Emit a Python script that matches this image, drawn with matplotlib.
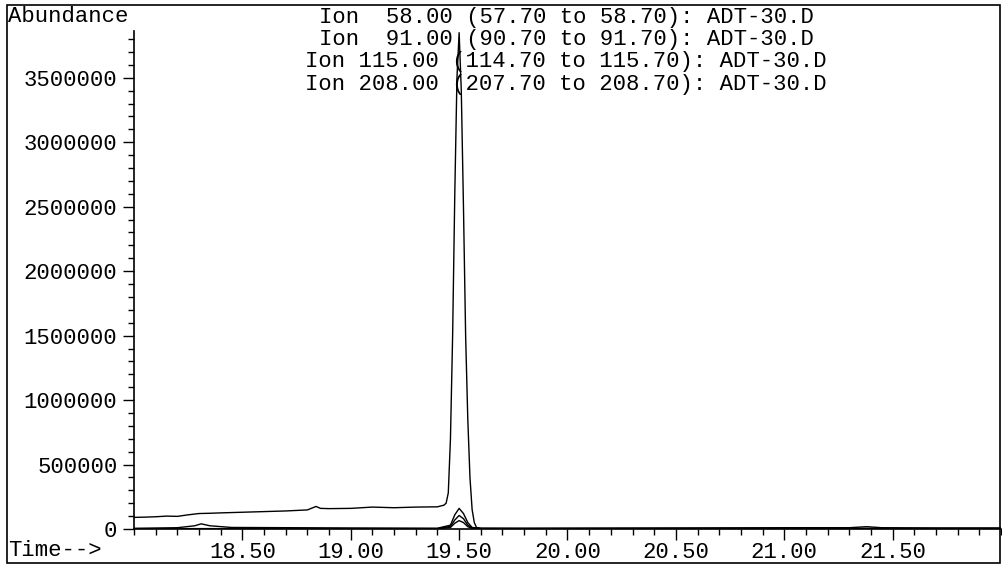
import matplotlib
matplotlib.use("Agg")
import matplotlib.pyplot as plt
from matplotlib.ticker import MultipleLocator
from matplotlib.patches import Rectangle

# ---- data ----
ion91_time = [18.00, 18.05, 18.10, 18.15, 18.20, 18.25, 18.30, 18.35, 18.40, 18.50,
              18.60, 18.70, 18.80, 18.84, 18.86, 18.90, 19.00, 19.10, 19.20, 19.30,
              19.40, 19.43, 19.44, 19.45, 19.46, 19.47, 19.48, 19.49, 19.50, 19.51,
              19.52, 19.53, 19.54, 19.55, 19.56, 19.57, 19.58, 19.60, 19.80, 20.00,
              20.50, 21.00, 21.30, 21.38, 21.45, 21.70, 22.00]
ion91_abund = [90000, 92000, 95000, 100000, 98000, 110000, 120000, 122000, 125000, 130000,
               135000, 140000, 148000, 175000, 160000, 158000, 160000, 170000, 165000, 170000,
               172000, 185000, 200000, 280000, 700000, 1500000, 2600000, 3500000, 3850000, 3400000,
               2500000, 1500000, 850000, 400000, 150000, 50000, 12000, 6000, 5000, 6000,
               8000, 10000, 10000, 18000, 10000, 8000, 8000]

ion58_time = [18.00, 18.20, 18.28, 18.31, 18.35, 18.45, 19.00, 19.40, 19.46, 19.48,
              19.50, 19.52, 19.54, 19.56, 19.60, 20.50, 21.50, 22.00]
ion58_abund = [5000, 10000, 25000, 40000, 25000, 12000, 8000, 6000, 30000, 110000,
               160000, 120000, 50000, 12000, 5000, 5000, 5000, 5000]

ion115_time = [18.00, 19.40, 19.46, 19.48, 19.50, 19.52, 19.54, 19.56, 19.60, 22.00]
ion115_abund = [3000, 3000, 20000, 70000, 105000, 80000, 30000, 8000, 3000, 3000]

ion208_time = [18.00, 19.40, 19.46, 19.48, 19.50, 19.52, 19.54, 19.56, 19.60, 22.00]
ion208_abund = [2000, 2000, 12000, 45000, 65000, 50000, 18000, 5000, 2000, 2000]

legend_lines = [
    "Ion  58.00 (57.70 to 58.70): ADT-30.D",
    "Ion  91.00 (90.70 to 91.70): ADT-30.D",
    "Ion 115.00 (114.70 to 115.70): ADT-30.D",
    "Ion 208.00 (207.70 to 208.70): ADT-30.D",
]
x_major_ticks = [18.50, 19.00, 19.50, 20.00, 20.50, 21.00, 21.50]
y_major_ticks = [0, 500000, 1000000, 1500000, 2000000, 2500000, 3000000, 3500000]

# ---- figure ----
W, H = 1003, 566
fig = plt.figure(figsize=(W / 100, H / 100), dpi=100)
FONT = "Liberation Mono"
FS = 16

ax = fig.add_axes([134 / W, (H - 529) / H, 867 / W, 498 / H])
for t, a in [(ion91_time, ion91_abund), (ion58_time, ion58_abund),
             (ion115_time, ion115_abund), (ion208_time, ion208_abund)]:
    ax.plot(t, a, color="black", lw=1.0)

ax.set_xlim(18.0, 22.0)
ax.set_ylim(0, 3.863e6)
ax.spines["top"].set_visible(False)
ax.spines["right"].set_visible(False)
ax.spines["left"].set_linewidth(1.2)
ax.spines["bottom"].set_linewidth(1.2)

ax.set_xticks(x_major_ticks)
ax.set_xticklabels([f"{v:.2f}" for v in x_major_ticks])
ax.xaxis.set_minor_locator(MultipleLocator(0.1))
ax.set_yticks(y_major_ticks)
ax.set_yticklabels([str(v) for v in y_major_ticks])
ax.yaxis.set_minor_locator(MultipleLocator(100000))

ax.tick_params(axis="both", which="major", direction="out", length=8, width=1.0,
               labelsize=FS, color="black")
ax.tick_params(axis="both", which="minor", direction="out", length=4, width=1.0)
ax.tick_params(axis="y", which="major", pad=4)
ax.tick_params(axis="x", which="major", pad=1)
for lbl in ax.get_xticklabels() + ax.get_yticklabels():
    lbl.set_fontfamily(FONT)

# outer frame
fig.add_artist(Rectangle((7 / W, (H - 563) / H), 993 / W, 558 / H,
                         transform=fig.transFigure, fill=False, lw=1.2, ec="black"))

fig.text(8 / W, 1 - 17 / H, "Abundance", family=FONT, fontsize=FS,
         ha="left", va="center")
fig.text(8 / W, 1 - 550 / H, "Time-->", family=FONT, fontsize=FS,
         ha="left", va="center")
for i, line in enumerate(legend_lines):
    fig.text(566 / W, 1 - (17 + 22.4 * i) / H, line, family=FONT, fontsize=FS,
             ha="center", va="center")

fig.savefig("out.png", dpi=100)
